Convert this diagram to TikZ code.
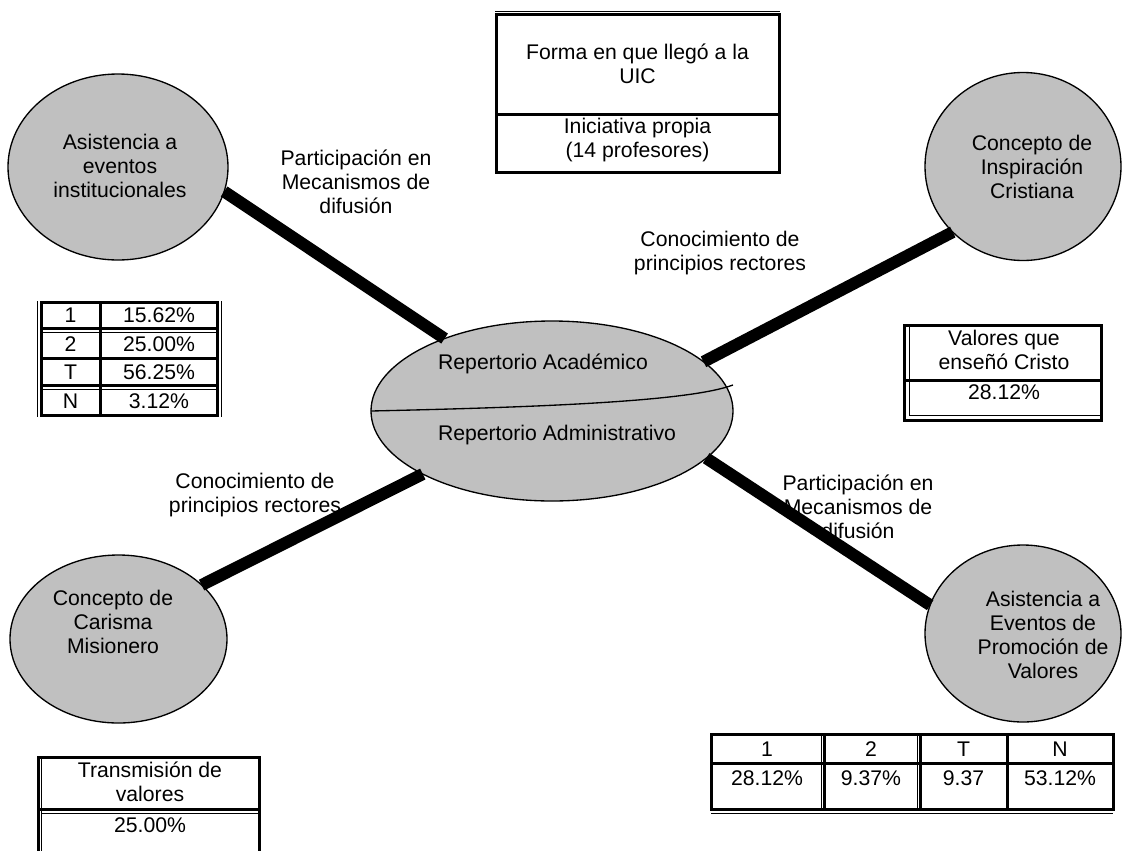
\documentclass[tikz,border=0pt]{standalone}
\usepackage{fontspec}
\setmainfont{Liberation Sans}
\usetikzlibrary{shapes.geometric}
\definecolor{bubblegray}{HTML}{C0C0C0}
% strut that centres each text block on the visual middle of its lines
\newcommand{\tstrut}{\rule[-0.3em]{0pt}{1.32em}}
\begin{document}
\begin{tikzpicture}[x=0.75pt,y=-0.75pt,
  txt/.style={inner sep=0pt, outer sep=0pt, align=center,
    font=\fontsize{15.9}{18}\selectfont,
    execute at begin node=\tstrut, execute at end node=\tstrut},
  bubble/.style={ellipse, draw=black, line width=1pt, fill=bubblegray,
    inner sep=0pt, outer sep=0pt},
  bar/.style={line width=9pt, draw=black},
  bthick/.style={line width=2.25pt},
  bthin/.style={line width=0.75pt},
]
\useasboundingbox (0,0) rectangle (1128,850);
\clip (0,0) rectangle (1128,850);

% ---- bubbles ----
\node[bubble, minimum width=220*0.75pt, minimum height=186*0.75pt] (tl) at (118,167) {};
\node[bubble, minimum width=196*0.75pt, minimum height=188*0.75pt] (tr) at (1023,166.5) {};
\node[bubble, minimum width=217*0.75pt, minimum height=168*0.75pt] (bl) at (118.5,639) {};
\node[bubble, minimum width=196*0.75pt, minimum height=177*0.75pt] (br) at (1023,633.5) {};
\node[bubble, minimum width=362*0.75pt, minimum height=180*0.75pt] (c) at (552,411) {};

% dividing line of the central ellipse
\draw[line width=1pt] (c.west) .. controls (550,407) and (690,401) .. (733,385);

% ---- thick connectors ----
\draw[bar] (tl.-13) -- (c.146.4);
\draw[bar] (c.18.8) -- (tr.223);
\draw[bar] (c.206) -- (bl.33);
\draw[bar] (c.-17) -- (br.163);

% ---- bubble texts ----
\node[txt] (tlt) at (120,169) {Asistencia a\\eventos\\institucionales};
\node[txt] (trt) at (1032,170) {Concepto de\\Inspiración\\Cristiana};
\node[txt] (blt) at (113,625) {Concepto de\\Carisma\\Misionero};
\node[txt] (brt) at (1043,637.5) {Asistencia a\\Eventos de\\Promoción de\\Valores};
\node[txt] (ct1) at (543,362) {Repertorio Académico};
\node[txt] (ct2) at (557,433) {Repertorio Administrativo};

% ---- connector labels ----
\node[txt] (lab1) at (356,185) {Participación en\\Mecanismos de\\difusión};
\node[txt] (lab2) at (720,254) {Conocimiento de\\principios rectores};
\node[txt] (lab3) at (255,496) {Conocimiento de\\principios rectores};
\node[txt] (lab4) at (858,510) {Participación en\\Mecanismos de\\difusión};

% ---- top box ----
\draw[bthin] (495,11) -- (780,11);
\draw[bthick] (496.5,14.5) rectangle (779,172);
\draw[bthick] (496.5,114) -- (779,114);
\node[txt] (uic) at (637.5,66.5) {Forma en que llegó a la\\UIC};
\node[txt] (ini) at (637.5,141) {Iniciativa propia\\(14 profesores)};

% ---- left table ----
\draw[bthin] (37,301) -- (37,417);
\draw[bthin] (221,301) -- (221,417);
\draw[bthick] (41,302.5) rectangle (217,415.5);
\draw[bthick] (41,328) -- (217,328);
\draw[bthin] (41,332) -- (217,332);
\draw[bthick] (41,358) -- (217,358);
\draw[bthick] (41,385) -- (217,385);
\draw[bthin] (41,389) -- (217,389);
\draw[bthick] (100,302.5) -- (100,415.5);
\node[txt] (r1a) at (70.5,315) {1};
\node[txt] (r1b) at (159,315) {15.62\%};
\node[txt] (r2a) at (70.5,344) {2};
\node[txt] (r2b) at (159,344) {25.00\%};
\node[txt] (r3a) at (70.5,372) {T};
\node[txt] (r3b) at (159,372) {56.25\%};
\node[txt] (r4a) at (70.5,401) {N};
\node[txt] (r4b) at (159,401) {3.12\%};

% ---- right table ----
\draw[bthick] (904,325) rectangle (1101,420);
\draw[bthin] (909,325) -- (909,415);
\draw[bthin] (909,415) -- (1101,415);
\draw[bthick] (904,380) -- (1101,380);
\node[txt] (valh) at (1004,352.5) {Valores que\\enseñó Cristo};
\node[txt] (valv) at (1004,392) {28.12\%};

% ---- bottom left table ----
\draw[bthick] (38,870) -- (38,757) -- (259,757) -- (259,870);
\draw[bthin] (41.5,757) -- (41.5,870);
\draw[bthick] (38,809) -- (259,809);
\draw[bthin] (41.5,813) -- (259,813);
\node[txt] (trh) at (150,785) {Transmisión de\\valores};
\node[txt] (trv) at (150,825) {25.00\%};

% ---- bottom right table ----
\draw[bthick] (711,734) rectangle (1113,809);
\draw[bthin] (711,813) -- (1113,813);
\draw[bthick] (711,763) -- (1113,763);
\draw[bthin] (821,734) -- (821,809);
\draw[bthick] (824.5,734) -- (824.5,809);
\draw[bthin] (917,734) -- (917,809);
\draw[bthick] (920.5,734) -- (920.5,809);
\draw[bthick] (1007,734) -- (1007,809);
\node[txt] (h1) at (767,749) {1};
\node[txt] (h2) at (871,749) {2};
\node[txt] (h3) at (963.5,749) {T};
\node[txt] (h4) at (1060,749) {N};
\node[txt] (v1) at (767,778) {28.12\%};
\node[txt] (v2) at (871,778) {9.37\%};
\node[txt] (v3) at (963.5,778) {9.37};
\node[txt] (v4) at (1060,778) {53.12\%};
\end{tikzpicture}
\end{document}
